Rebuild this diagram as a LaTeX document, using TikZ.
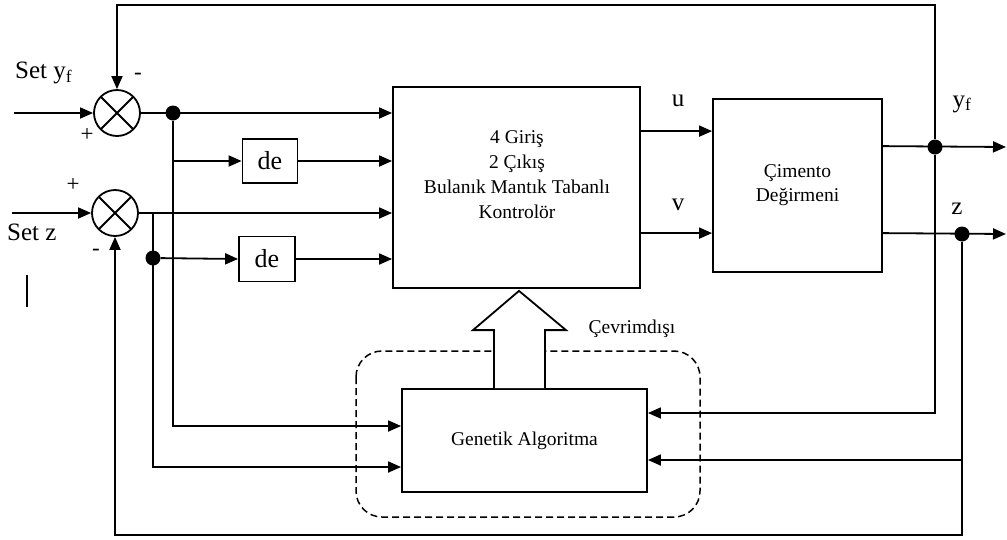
\documentclass[tikz,border=0pt]{standalone}
\usepackage{fontspec}
\setmainfont{Liberation Serif}
\usetikzlibrary{positioning,arrows.meta,calc}
\tikzset{
  block/.style={draw,line width=1.8pt,inner sep=0pt,align=center,
    font=\fontsize{19}{24}\selectfont},
  sumnode/.style={draw,circle,line width=1.8pt,minimum size=46pt,inner sep=0pt,
    path picture={\draw[line width=1.8pt]
      (path picture bounding box.north west)--(path picture bounding box.south east)
      (path picture bounding box.north east)--(path picture bounding box.south west);}},
  junc/.style={circle,fill,inner sep=0pt,minimum size=15pt},
  wire/.style={line width=1.8pt},
  arr/.style={-{Triangle[length=13pt,width=11pt]},line width=1.8pt},
  sgn/.style={font=\fontsize{23}{23}\selectfont,inner sep=0pt},
  lbl/.style={font=\fontsize{25}{25}\selectfont,inner sep=0pt},
  offline/.style={draw,dash pattern=on 7pt off 4pt,line width=1.5pt,rounded corners=26pt},
  hollow/.style={draw,fill=white,line width=1.8pt},
}
\begin{document}
\begin{tikzpicture}[x=1pt,y=-1pt]
  \useasboundingbox (0,0) rectangle (1007,539);
  % toplayicilar
  \node[sumnode] (s1) at (117,113) {};
  \node[sumnode] (s2) at (115,213) {};
  \node[block,minimum width=55pt,minimum height=44pt,font=\fontsize{26}{26}\selectfont] (de1) at (270,161) {de};
  \node[block,minimum width=56pt,minimum height=45pt,font=\fontsize{26}{26}\selectfont] (de2) at (267,259) {de};
  % bloklar
  \node[block,minimum width=247pt,minimum height=201pt] (flc) at (516.5,187.5) {};
  \node[align=center,font=\fontsize{19.5}{25}\selectfont] (flctext) at (517,175)
    {4 Giriş\\2 Çıkış\\Bulanık Mantık Tabanlı\\Kontrolör};
  \node[block,minimum width=169pt,minimum height=173pt,font=\fontsize{19.5}{24}\selectfont] (pm) at (797.5,185.5) {Çimento\\Değirmeni};
  \node[block,minimum width=245pt,minimum height=103pt,font=\fontsize{19.5}{24}\selectfont] (ga) at (524.5,440.5) {Genetik Algoritma};
  \draw[offline] (356,351) rectangle (700,517);
  \draw[hollow] ($(ga.north)+(-30.5,0)$) -- ++(0,-58) -- ++(-21,0)
    -- ($(flc.south)+(2.5,2)$) -- ($(ga.north)+(41.5,-58)$) -- ++(-21,0) -- ($(ga.north)+(20.5,0)$);
  \node[font=\fontsize{19.5}{19.5}\selectfont,inner sep=0pt] (offlbl) at (632,329) {Çevrimdışı};
  % dugumler ve uclar
  \coordinate (inY) at (14,113);
  \coordinate (inZ) at (12,213);
  \coordinate (topline) at (0,5);
  \coordinate (botline) at (0,535);
  \coordinate (yend) at (1006,147);
  \coordinate (zend) at (1006,234);
  \node[junc] (d1) at (173,113) {};
  \node[junc] (d2) at (153,258) {};
  \coordinate (b2) at (153,213);
  \node[junc] (d3) at (935,147) {};
  \node[junc] (d4) at (962,234) {};
  \coordinate (uout) at ($(flc.north east)+(0,45)$);
  \coordinate (vout) at ($(flc.north east)+(0,147)$);
  \coordinate (yout) at ($(pm.north east)+(0,48)$);
  \coordinate (zout) at ($(pm.north east)+(0,135)$);
  \coordinate (gain1) at ($(ga.west)+(0,-14.5)$);
  \coordinate (gain2) at ($(ga.west)+(0,26.5)$);
  \coordinate (gay) at ($(ga.east)+(0,-27.5)$);
  \coordinate (gaz) at ($(ga.east)+(0,19.5)$);
  % baglantilar
  \draw[arr] (inY) -- (s1);
  \draw[arr] (inZ) -- (s2);
  \draw[arr] (s1) -- (s1 -| flc.west);
  \draw[arr] (s2) -- (s2 -| flc.west);
  \draw[arr] (d1) |- (gain1);
  \draw[arr] (d1 |- de1.west) -- (de1.west);
  \draw[arr] (de1) -- (de1 -| flc.west);
  \draw[arr] (b2) |- (gain2);
  \draw[arr] (d2) -- (de2.west);
  \draw[arr] (de2) -- (de2 -| flc.west);
  \draw[arr] (uout) -- (uout -| pm.west);
  \draw[arr] (vout) -- (vout -| pm.west);
  \draw[arr] (yout) -- (yend);
  \draw[arr] (zout) -- (zend);
  \draw[arr] (d3) -- (d3 |- topline) -| (s1.north);
  \draw[arr] (d3) |- (gay);
  \draw[arr] (d4) -- (d4 |- botline) -| (s2.south);
  \draw[arr] (d4 |- gaz) -- (gaz);
  % etiketler
  \node[lbl,anchor=west] (lsety) at (15,73) {Set y\textsubscript{f}};
  \node[lbl,anchor=west] (lsetz) at (7,232) {Set z};
  \node[sgn] (m1) at (138,76) {-};
  \node[sgn] (p1) at (87,135) {+};
  \node[sgn] (p2) at (73,185) {+};
  \node[sgn] (m2) at (96,252) {-};
  \node[lbl] (lu) at (678,101) {u};
  \node[lbl] (lv) at (678,205) {v};
  \node[lbl] (ly) at (962,104) {y\textsubscript{f}};
  \node[lbl] (lz) at (957,209) {z};
  \draw[line width=1.8pt] (27,275) -- (27,307);
\end{tikzpicture}
\end{document}
